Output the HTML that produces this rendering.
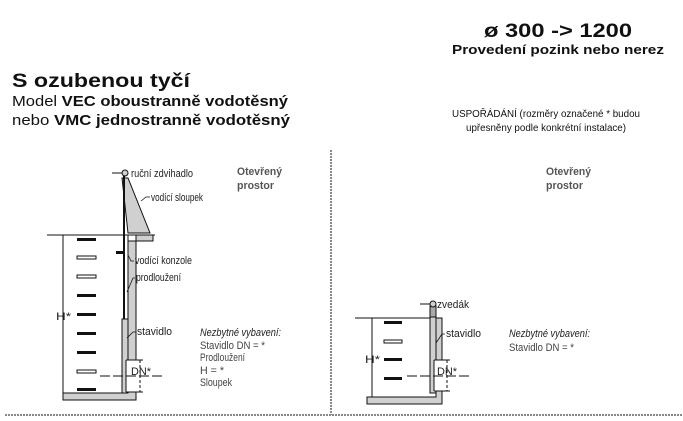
<!DOCTYPE html>
<html><head><meta charset="utf-8"><style>
html,body{margin:0;padding:0;background:#fff;width:683px;height:421px;overflow:hidden}
svg{display:block;font-family:"Liberation Sans",sans-serif}
</style></head><body>
<svg width="683" height="421" viewBox="0 0 683 421">
<g fill="#111">
<text x="558" y="37" font-size="19" font-weight="bold" text-anchor="middle" textLength="148" lengthAdjust="spacingAndGlyphs">ø 300 -&gt; 1200</text>
<text x="558" y="54" font-size="13" font-weight="bold" text-anchor="middle" textLength="212" lengthAdjust="spacingAndGlyphs">Provedení pozink nebo nerez</text>
<text x="12" y="87" font-size="19" font-weight="bold" textLength="178" lengthAdjust="spacingAndGlyphs">S ozubenou  tyčí</text>
<text x="12" y="106" font-size="15" textLength="276" lengthAdjust="spacingAndGlyphs">Model <tspan font-weight="bold">VEC oboustranně vodotěsný</tspan></text>
<text x="12" y="125" font-size="15" textLength="278" lengthAdjust="spacingAndGlyphs">nebo <tspan font-weight="bold">VMC jednostranně vodotěsný</tspan></text>
<text x="546" y="117" font-size="10" text-anchor="middle" textLength="188" lengthAdjust="spacingAndGlyphs">USPOŘÁDÁNÍ (rozměry označené * budou</text>
<text x="546" y="131" font-size="10" text-anchor="middle" textLength="160" lengthAdjust="spacingAndGlyphs">upřesněny podle konkrétní instalace)</text>
</g>
<line x1="5" y1="415" x2="683" y2="415" stroke="#888" stroke-width="2" stroke-dasharray="2,1"/>
<line x1="331" y1="150" x2="331" y2="415" stroke="#888" stroke-width="2" stroke-dasharray="2,1"/>

<g stroke="#111" stroke-width="1">
<path d="M128,241 L153,241 L153,235 L128,235 Z M128,235 L136,235 L136,400 L63,400 L63,393 L128,393 Z" fill="#d0d0d0"/>
<polygon points="122,178 128,178 150,233 128,233" fill="#d0d0d0"/>
<line x1="47" y1="235" x2="155" y2="235"/>
<line x1="63" y1="235" x2="63" y2="393"/>
<line x1="124" y1="176" x2="124" y2="319" stroke-width="2"/>
<rect x="122" y="319" width="6" height="74" fill="#d0d0d0"/>
<circle cx="125" cy="173" r="3" fill="#d0d0d0"/>
<line x1="112" y1="173" x2="122" y2="173"/>
<rect x="126" y="360" width="14" height="32" fill="#fff" stroke="none"/>
<line x1="126" y1="360" x2="126" y2="392"/>
<line x1="126" y1="360" x2="143" y2="360"/>
<line x1="140" y1="360" x2="140" y2="392" stroke-dasharray="3,2"/>
<line x1="100" y1="376" x2="163" y2="376" stroke-dasharray="10,3"/>
<line x1="126" y1="392" x2="143" y2="392"/>
</g>
<rect x="116" y="251" width="9" height="3" fill="#111"/>
<g fill="#111">
<rect x="77" y="238" width="19" height="3"/>
<rect x="77" y="256" width="19" height="3" fill="#fff" stroke="#111"/>
<rect x="77" y="275" width="19" height="3" fill="#fff" stroke="#111"/>
<rect x="77" y="294" width="19" height="3"/>
<rect x="77" y="313" width="19" height="3"/>
<rect x="77" y="332" width="19" height="3"/>
<rect x="77" y="351" width="19" height="3"/>
<rect x="77" y="370" width="19" height="3" fill="#fff" stroke="#111"/>
<rect x="77" y="388" width="19" height="3"/>
</g>
<g stroke="#111" stroke-width="0.8" fill="none">
<path d="M141,201 L146,197 L150,197"/>
<path d="M128,255 L131,261 L134,261"/>
<path d="M127,292 L133,278 L135,278"/>
<path d="M127,338 L133,332 L136,332"/>
</g>
<g fill="#222" font-size="11">
<text x="131" y="177" textLength="62" lengthAdjust="spacingAndGlyphs">ruční zdvihadlo</text>
<text x="151" y="201" textLength="52" lengthAdjust="spacingAndGlyphs">vodící sloupek</text>
<text x="135" y="264" textLength="57" lengthAdjust="spacingAndGlyphs">vodící konzole</text>
<text x="136" y="281" textLength="45" lengthAdjust="spacingAndGlyphs">prodloužení</text>
<text x="137" y="335" textLength="35" lengthAdjust="spacingAndGlyphs">stavidlo</text>
<text x="56" y="320" textLength="15" lengthAdjust="spacingAndGlyphs">H*</text>
<text x="131" y="375" textLength="20" lengthAdjust="spacingAndGlyphs">DN*</text>
<text x="237" y="175" font-weight="bold" fill="#555" textLength="45" lengthAdjust="spacingAndGlyphs">Otevřený</text>
<text x="237" y="189" font-weight="bold" fill="#555" textLength="37" lengthAdjust="spacingAndGlyphs">prostor</text>
<text x="200" y="336" font-style="italic" textLength="81" lengthAdjust="spacingAndGlyphs">Nezbytné vybavení:</text>
<g fill="#444"><text x="200" y="349" textLength="65" lengthAdjust="spacingAndGlyphs">Stavidlo DN = *</text>
<text x="200" y="361" textLength="45" lengthAdjust="spacingAndGlyphs">Prodloužení</text>
<text x="200" y="374" textLength="24" lengthAdjust="spacingAndGlyphs">H = *</text>
<text x="200" y="386" textLength="32" lengthAdjust="spacingAndGlyphs">Sloupek</text></g>
<text x="546" y="175" font-weight="bold" fill="#555" textLength="45" lengthAdjust="spacingAndGlyphs">Otevřený</text>
<text x="546" y="189" font-weight="bold" fill="#555" textLength="37" lengthAdjust="spacingAndGlyphs">prostor</text>
</g>

<g stroke="#111" stroke-width="1">
<path d="M436,318 L442,318 L442,404 L367,404 L367,397 L436,397 Z" fill="#d0d0d0"/>
<line x1="355" y1="318" x2="432" y2="318"/>
<line x1="372" y1="318" x2="372" y2="397"/>
<rect x="430" y="306" width="6" height="87" fill="#d0d0d0"/>
<rect x="430" y="306" width="6" height="11" fill="#aaa"/>
<circle cx="433" cy="304" r="3" fill="#d0d0d0"/>
<line x1="420" y1="304" x2="430" y2="304"/>
<rect x="434" y="360" width="13" height="31" fill="#fff" stroke="none"/>
<line x1="434" y1="360" x2="434" y2="391"/>
<line x1="434" y1="360" x2="450" y2="360"/>
<line x1="447" y1="360" x2="447" y2="391" stroke-dasharray="3,2"/>
<line x1="434" y1="391" x2="450" y2="391"/>
<line x1="407" y1="376" x2="471" y2="376" stroke-dasharray="10,3"/>
<path d="M436,343 L442,334 L445,334" fill="none" stroke-width="0.8"/>
</g>
<g fill="#111">
<rect x="384" y="321" width="18" height="3"/>
<rect x="384" y="340" width="18" height="3" fill="#fff" stroke="#111"/>
<rect x="384" y="358" width="18" height="3"/>
<rect x="384" y="377" width="18" height="3"/>
</g>
<g fill="#222" font-size="11">
<text x="437" y="308" textLength="32" lengthAdjust="spacingAndGlyphs">zvedák</text>
<text x="446" y="337" textLength="35" lengthAdjust="spacingAndGlyphs">stavidlo</text>
<text x="365" y="363" textLength="15" lengthAdjust="spacingAndGlyphs">H*</text>
<text x="437" y="375" textLength="20" lengthAdjust="spacingAndGlyphs">DN*</text>
<text x="509" y="337" font-style="italic" textLength="81" lengthAdjust="spacingAndGlyphs">Nezbytné vybavení:</text>
<text x="509" y="351" fill="#444" textLength="65" lengthAdjust="spacingAndGlyphs">Stavidlo DN = *</text>
</g>
</svg>
</body></html>
